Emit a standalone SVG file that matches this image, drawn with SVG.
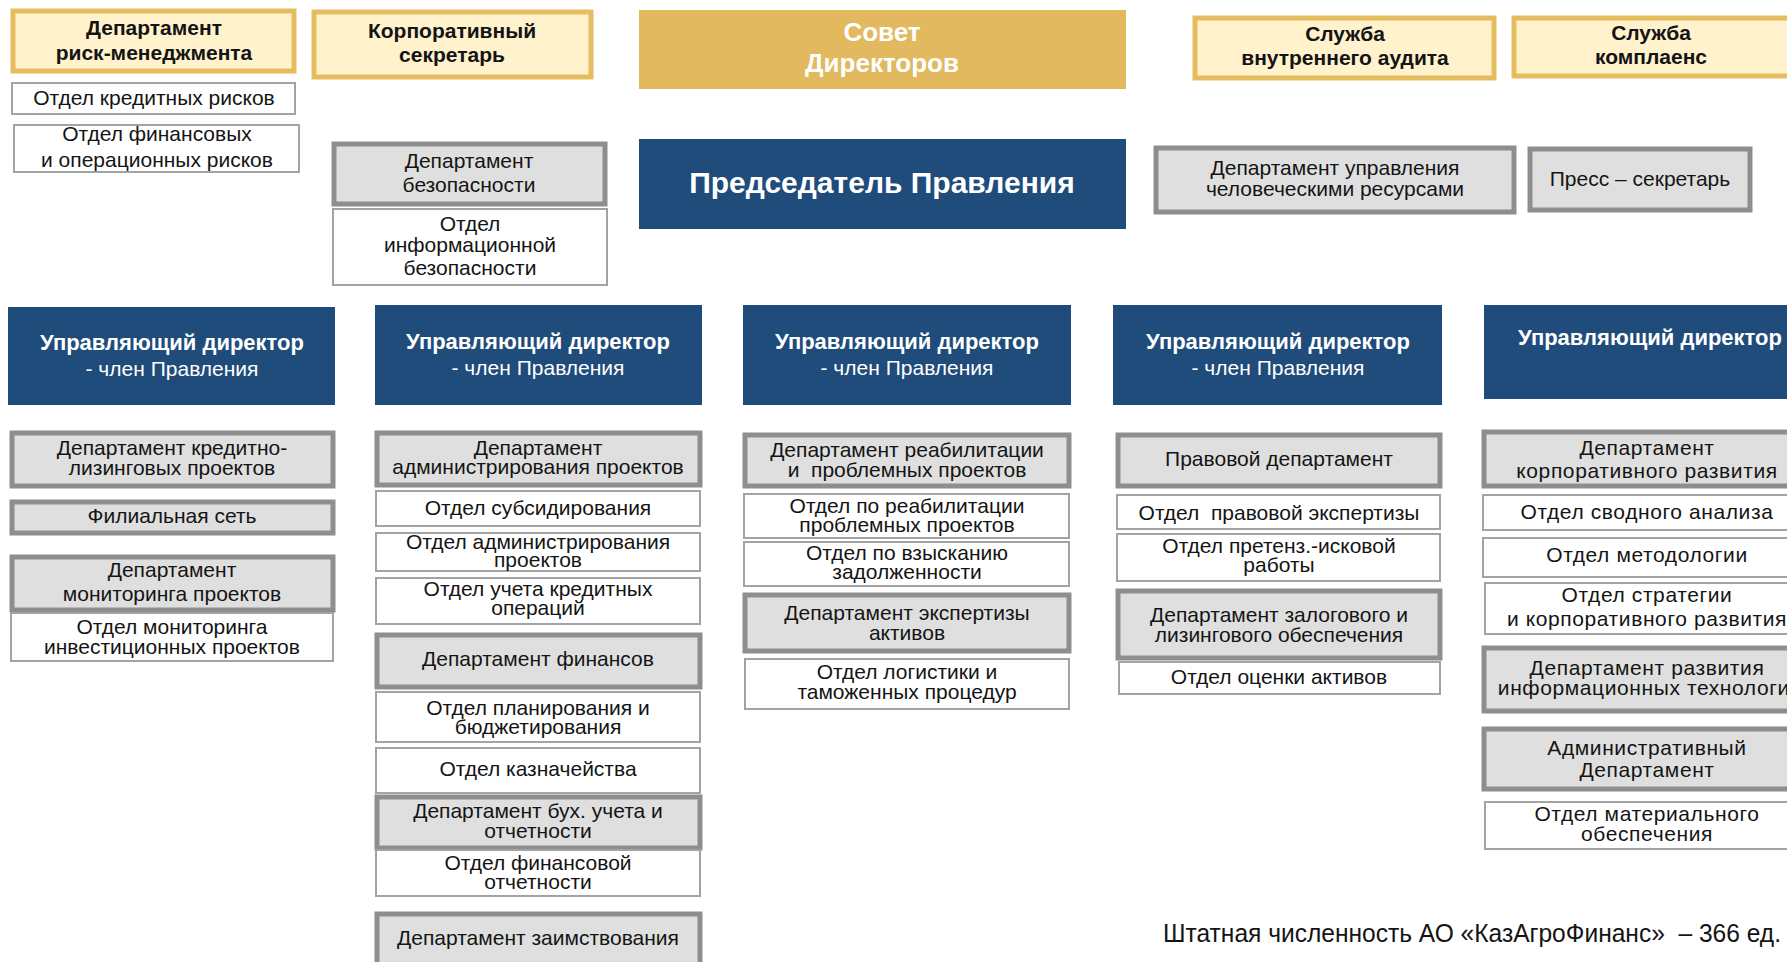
<svg xmlns="http://www.w3.org/2000/svg" width="1787" height="962" viewBox="0 0 1787 962">
<style>
.bg{fill:#ffffff}
.gold{fill:#FFF2CC;stroke:#E5BD5F;stroke-width:5}
.board{fill:#E2B95E}
.navy{fill:#1F4C7A}
.gray{fill:#DFDFDF;stroke:#8E8E8E;stroke-width:5}
.white{fill:#ffffff;stroke:#A3A3A3;stroke-width:2}
text{font-family:"Liberation Sans",Arial,sans-serif;text-anchor:middle;fill:#141414;font-size:21px}
.b{font-weight:bold}
.w{fill:#ffffff}
.wide{letter-spacing:0.6px}
.tight{font-size:20px}
</style>
<rect class="bg" x="0" y="0" width="1787" height="962"/>
<g id="connectors"/>

<g id="risk-dept"><rect class="gold" x="13" y="11" width="281" height="60"/>
<text class="b" x="154"><tspan x="154" y="35">Департамент</tspan><tspan x="154" y="60">риск-менеджмента</tspan></text></g>
<g id="credit-risk"><rect class="white" x="12" y="83" width="283" height="31"/>
<text x="154" y="105">Отдел кредитных рисков</text></g>
<g id="fin-risk"><rect class="white" x="14" y="125" width="285" height="47"/>
<text x="157"><tspan x="157" y="141">Отдел финансовых</tspan><tspan x="157" y="167">и операционных рисков</tspan></text></g>

<g id="corp-secretary"><rect class="gold" x="314" y="12" width="277" height="65"/>
<text class="b" x="452"><tspan x="452" y="38">Корпоративный</tspan><tspan x="452" y="62">секретарь</tspan></text></g>

<g id="security-dept"><rect class="gray" x="334" y="144" width="271" height="60"/>
<text x="469"><tspan x="469" y="168">Департамент</tspan><tspan x="469" y="192">безопасности</tspan></text></g>
<g id="infosec"><rect class="white" x="333" y="209" width="274" height="76"/>
<text x="470"><tspan x="470" y="231">Отдел</tspan><tspan x="470" y="252">информационной</tspan><tspan x="470" y="275">безопасности</tspan></text></g>

<g id="board"><rect class="board" x="639" y="10" width="487" height="79"/>
<text class="b w" x="882" style="font-size:26px"><tspan x="882" y="41">Совет</tspan><tspan x="882" y="72">Директоров</tspan></text></g>
<g id="chairman"><rect class="navy" x="639" y="139" width="487" height="90"/>
<text class="b w" x="882" y="193" style="font-size:30px">Председатель Правления</text></g>

<g id="audit"><rect class="gold" x="1195" y="18" width="299" height="60"/>
<text class="b" x="1345"><tspan x="1345" y="41">Служба</tspan><tspan x="1345" y="65">внутреннего аудита</tspan></text></g>
<g id="compliance"><rect class="gold" x="1514" y="18" width="276" height="58"/>
<text class="b" x="1651"><tspan x="1651" y="40">Служба</tspan><tspan x="1651" y="64">комплаенс</tspan></text></g>

<g id="hr-dept"><rect class="gray" x="1156" y="148" width="358" height="64"/>
<text x="1335"><tspan x="1335" y="175">Департамент управления</tspan><tspan x="1335" y="196">человеческими ресурсами</tspan></text></g>
<g id="press"><rect class="gray" x="1530" y="149" width="220" height="61"/>
<text x="1640" y="186">Пресс – секретарь</text></g>

<g id="md1"><rect class="navy" x="8" y="307" width="327" height="98"/>
<text class="w" x="172"><tspan class="b" x="172" y="350" style="font-size:22px">Управляющий директор</tspan><tspan x="172" y="376">- член Правления</tspan></text></g>
<g id="md2"><rect class="navy" x="375" y="305" width="327" height="100"/>
<text class="w" x="538"><tspan class="b" x="538" y="349" style="font-size:22px">Управляющий директор</tspan><tspan x="538" y="375">- член Правления</tspan></text></g>
<g id="md3"><rect class="navy" x="743" y="305" width="328" height="100"/>
<text class="w" x="907"><tspan class="b" x="907" y="349" style="font-size:22px">Управляющий директор</tspan><tspan x="907" y="375">- член Правления</tspan></text></g>
<g id="md4"><rect class="navy" x="1113" y="305" width="329" height="100"/>
<text class="w" x="1278"><tspan class="b" x="1278" y="349" style="font-size:22px">Управляющий директор</tspan><tspan x="1278" y="375">- член Правления</tspan></text></g>
<g id="md5"><rect class="navy" x="1484" y="305" width="310" height="94"/>
<text class="b w" x="1650" y="345" style="font-size:22px">Управляющий директор</text></g>

<g id="c1-credit-leasing"><rect class="gray" x="12" y="433" width="321" height="53"/>
<text x="172"><tspan x="172" y="455">Департамент кредитно-</tspan><tspan x="172" y="475">лизинговых проектов</tspan></text></g>
<g id="c1-branches"><rect class="gray" x="12" y="502" width="321" height="31"/>
<text x="172" y="523">Филиальная сеть</text></g>
<g id="c1-monitoring"><rect class="gray" x="12" y="557" width="321" height="53"/>
<text x="172"><tspan x="172" y="577">Департамент</tspan><tspan x="172" y="601">мониторинга проектов</tspan></text></g>
<g id="c1-inv-monitoring"><rect class="white" x="11" y="613" width="322" height="48"/>
<text x="172"><tspan x="172" y="634">Отдел мониторинга</tspan><tspan x="172" y="654">инвестиционных проектов</tspan></text></g>

<g id="c2-project-admin"><rect class="gray" x="377" y="433" width="323" height="52"/>
<text x="538"><tspan x="538" y="455">Департамент</tspan><tspan x="538" y="474">администрирования проектов</tspan></text></g>
<g id="c2-subsidy"><rect class="white" x="376" y="491" width="324" height="35"/>
<text x="538" y="515">Отдел субсидирования</text></g>
<g id="c2-admin"><rect class="white" x="376" y="533" width="324" height="38"/>
<text x="538"><tspan x="538" y="549">Отдел администрирования</tspan><tspan x="538" y="567">проектов</tspan></text></g>
<g id="c2-credit-ops"><rect class="white" x="376" y="578" width="324" height="46"/>
<text x="538"><tspan x="538" y="596">Отдел учета кредитных</tspan><tspan x="538" y="615">операций</tspan></text></g>
<g id="c2-finance"><rect class="gray" x="377" y="635" width="323" height="52"/>
<text x="538" y="666">Департамент финансов</text></g>
<g id="c2-planning"><rect class="white" x="376" y="692" width="324" height="50"/>
<text x="538"><tspan x="538" y="715">Отдел планирования и</tspan><tspan x="538" y="734">бюджетирования</tspan></text></g>
<g id="c2-treasury"><rect class="white" x="376" y="748" width="324" height="45"/>
<text x="538" y="776">Отдел казначейства</text></g>
<g id="c2-accounting"><rect class="gray" x="377" y="797" width="323" height="51"/>
<text x="538"><tspan x="538" y="818">Департамент бух. учета и</tspan><tspan x="538" y="838">отчетности</tspan></text></g>
<g id="c2-fin-reporting"><rect class="white" x="376" y="850" width="324" height="46"/>
<text x="538"><tspan x="538" y="870">Отдел финансовой</tspan><tspan x="538" y="889">отчетности</tspan></text></g>
<g id="c2-borrowing"><rect class="gray" x="377" y="914" width="323" height="60"/>
<text x="538" y="945">Департамент заимствования</text></g>

<g id="c3-rehab"><rect class="gray" x="745" y="435" width="324" height="51"/>
<text x="907"><tspan x="907" y="457">Департамент реабилитации</tspan><tspan x="907" y="477" xml:space="preserve">и  проблемных проектов</tspan></text></g>
<g id="c3-rehab-div"><rect class="white" x="744" y="494" width="325" height="44"/>
<text x="907"><tspan x="907" y="513">Отдел по реабилитации</tspan><tspan x="907" y="532">проблемных проектов</tspan></text></g>
<g id="c3-collection"><rect class="white" x="744" y="542" width="325" height="44"/>
<text x="907"><tspan x="907" y="560">Отдел по взысканию</tspan><tspan x="907" y="579">задолженности</tspan></text></g>
<g id="c3-asset-exp"><rect class="gray" x="745" y="595" width="324" height="56"/>
<text x="907"><tspan x="907" y="620">Департамент экспертизы</tspan><tspan x="907" y="640">активов</tspan></text></g>
<g id="c3-logistics"><rect class="white" x="745" y="659" width="324" height="50"/>
<text x="907"><tspan x="907" y="679">Отдел логистики и</tspan><tspan x="907" y="699">таможенных процедур</tspan></text></g>

<g id="c4-legal"><rect class="gray" x="1118" y="435" width="322" height="51"/>
<text x="1279" y="466">Правовой департамент</text></g>
<g id="c4-legal-exp"><rect class="white" x="1117" y="495" width="323" height="34"/>
<text x="1279" y="520" xml:space="preserve">Отдел  правовой экспертизы</text></g>
<g id="c4-claims"><rect class="white" x="1117" y="534" width="323" height="47"/>
<text x="1279"><tspan x="1279" y="553">Отдел претенз.-исковой</tspan><tspan x="1279" y="572">работы</tspan></text></g>
<g id="c4-collateral"><rect class="gray" x="1118" y="591" width="322" height="67"/>
<text x="1279"><tspan x="1279" y="622">Департамент залогового и</tspan><tspan x="1279" y="642">лизингового обеспечения</tspan></text></g>
<g id="c4-valuation"><rect class="white" x="1119" y="662" width="321" height="32"/>
<text x="1279" y="684">Отдел оценки активов</text></g>

<g id="c5-corp-dev"><rect class="gray" x="1484" y="432" width="320" height="54"/>
<text class="wide" x="1647"><tspan x="1647" y="455">Департамент</tspan><tspan x="1647" y="478">корпоративного развития</tspan></text></g>
<g id="c5-analysis"><rect class="white" x="1483" y="495" width="320" height="35"/>
<text class="wide" x="1647" y="519">Отдел сводного анализа</text></g>
<g id="c5-methodology"><rect class="white" x="1483" y="538" width="320" height="39"/>
<text class="wide" x="1647" y="562">Отдел методологии</text></g>
<g id="c5-strategy"><rect class="white" x="1485" y="583" width="320" height="51"/>
<text class="wide" x="1647"><tspan x="1647" y="602">Отдел стратегии</tspan><tspan x="1647" y="626">и корпоративного развития</tspan></text></g>
<g id="c5-it"><rect class="gray" x="1484" y="648" width="320" height="63"/>
<text class="wide" x="1650"><tspan x="1647" y="675">Департамент развития</tspan><tspan x="1650" y="695">информационных технологий</tspan></text></g>
<g id="c5-admin"><rect class="gray" x="1484" y="729" width="320" height="60"/>
<text class="wide" x="1647"><tspan x="1647" y="755">Административный</tspan><tspan x="1647" y="777">Департамент</tspan></text></g>
<g id="c5-material"><rect class="white" x="1485" y="802" width="320" height="47"/>
<text class="wide" x="1647"><tspan x="1647" y="821">Отдел материального</tspan><tspan x="1647" y="841">обеспечения</tspan></text></g>

<g id="footer"><text x="1163" y="942" style="text-anchor:start;font-size:25px" textLength="618" lengthAdjust="spacingAndGlyphs" xml:space="preserve">Штатная численность АО «КазАгроФинанс»  – 366 ед.</text></g>
</svg>
